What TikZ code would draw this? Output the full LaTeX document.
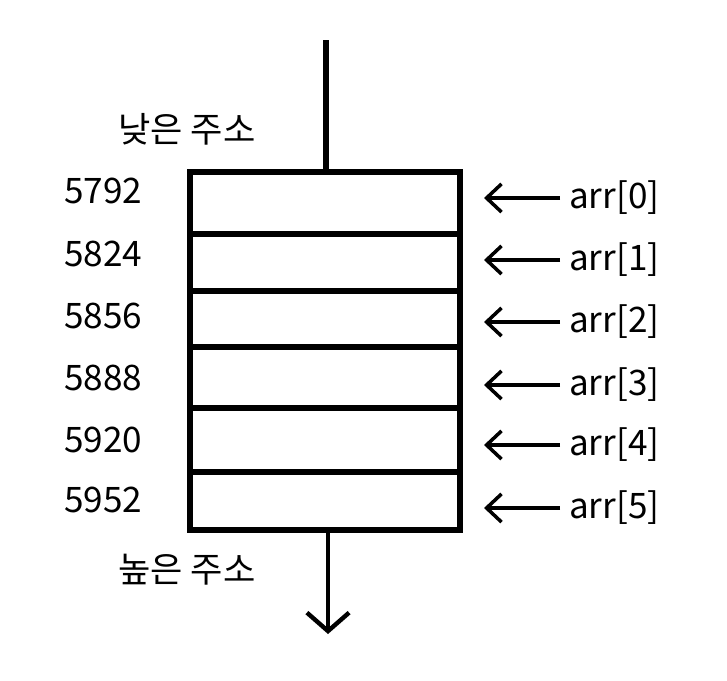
\documentclass[tikz,border=0pt]{standalone}
\usepackage{fontspec}
\setmainfont{Noto Sans CJK KR}
\usepackage{tikz}
\usetikzlibrary{arrows.meta}
\newcommand{\lblfont}{\fontsize{20}{24}\selectfont}
\tikzset{
  cell/.style={draw=black,line width=3pt,minimum width=270*0.02cm,inner sep=0pt},
  stem/.style={black,line width=3pt},
  down/.style={-{Straight Barb[length=10.5pt,width=24pt,line width=2.5pt]},black,line width=2.5pt},
  ptr/.style={-{Straight Barb[length=8.5pt,width=16pt,line width=2pt]},black,line width=2pt},
  addr/.style={font=\lblfont,anchor=west,inner sep=0pt},
  idx/.style={font=\lblfont,anchor=west,inner sep=5pt},
  note/.style={font=\lblfont,inner sep=0pt},
}

\begin{document}
\begin{tikzpicture}[x=0.02cm,y=-0.02cm]
  \useasboundingbox (0,0) rectangle (727,680);
  \foreach \i/\yt/\yb in {0/172/234,1/234/291,2/291/347,3/347/408,4/408/472,5/472/530}
    \node[cell,minimum height={(\yb-\yt)*0.02cm}] (c\i) at (325,{(\yt+\yb)/2}) {};
  \coordinate (top) at (326,40);
  \coordinate (bot) at (328,634);
  \draw[stem] (top) -- (c0.north -| top);
  \draw[down] (c5.south -| bot) -- (bot);
  \node[note] (low) at (187,129) {낮은 주소};
  \node[note] (high) at (187,570) {높은 주소};
  \foreach \i/\ya/\yp/\n in {0/191/198/5792,1/254/260/5824,2/316/322/5856,3/378/385/5888,4/440/445/5920,5/500/508/5952}{
    \node[addr] (n\i) at (64,\ya) {\n};
    \node[idx] (a\i) at (560,\yp) {arr[\i]};
    \coordinate (p\i) at (484,\yp);
    \draw[ptr] (a\i) -- (p\i);
  }
\end{tikzpicture}
\end{document}
